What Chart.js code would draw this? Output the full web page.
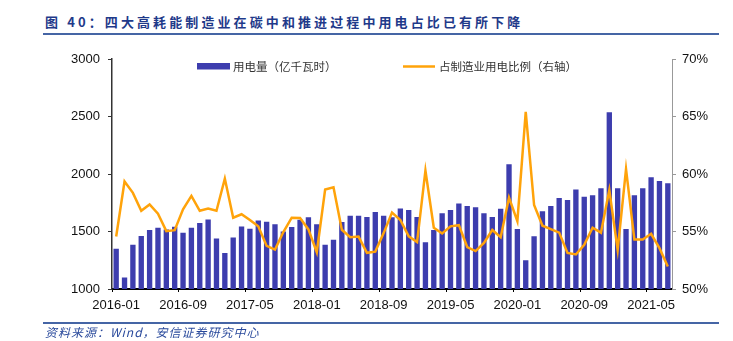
<!DOCTYPE html>
<html>
<head>
<meta charset="utf-8">
<script src="https://cdn.jsdelivr.net/npm/chart.js@4.4.1/dist/chart.umd.min.js"></script>
<style>
  html, body { margin: 0; padding: 0; background: #fff; }
  #wrap { position: relative; width: 733px; height: 341px; overflow: hidden; }
  #chart { position: absolute; left: 0; top: 0; }
  .title {
    position: absolute; left: 45px; top: 15px;
    font: bold 13px "Noto Sans CJK SC", sans-serif; line-height: 13px;
    letter-spacing: 3.1px; color: #1f3a8a; white-space: nowrap;
  }
  .rule { position: absolute; left: 43px; width: 676px; background: #4565a5; }
  .source {
    position: absolute; left: 45px; top: 325px;
    font: italic 12px "Noto Sans CJK SC", sans-serif; line-height: 13px;
    letter-spacing: 1px; color: #2a4a9c; white-space: nowrap;
  }
</style>
</head>
<body>
<div id="wrap">
  <div class="title">图 40：四大高耗能制造业在碳中和推进过程中用电占比已有所下降</div>
  <div class="rule" style="top:33px;height:2px;"></div>
  <canvas id="chart" width="733" height="341"></canvas>
  <div class="rule" style="top:322px;height:1.5px;"></div>
  <div class="source">资料来源：Wind，安信证券研究中心</div>
</div>
<script>
// months 2016-01 .. 2021-07
const months = [
  '2016-01','2016-02','2016-03','2016-04','2016-05','2016-06','2016-07','2016-08','2016-09','2016-10','2016-11','2016-12',
  '2017-01','2017-02','2017-03','2017-04','2017-05','2017-06','2017-07','2017-08','2017-09','2017-10','2017-11','2017-12',
  '2018-01','2018-02','2018-03','2018-04','2018-05','2018-06','2018-07','2018-08','2018-09','2018-10','2018-11','2018-12',
  '2019-01','2019-02','2019-03','2019-04','2019-05','2019-06','2019-07','2019-08','2019-09','2019-10','2019-11','2019-12',
  '2020-01','2020-02','2020-03','2020-04','2020-05','2020-06','2020-07','2020-08','2020-09','2020-10','2020-11','2020-12',
  '2021-01','2021-02','2021-03','2021-04','2021-05','2021-06','2021-07'
];

// 用电量（亿千瓦时）
const usage = [
  1350, 1100, 1385, 1460, 1512, 1532, 1518, 1541, 1489, 1532, 1575, 1604,
  1440, 1313, 1448, 1543, 1523, 1595, 1584, 1562, 1500, 1540, 1603, 1625,
  1564, 1385, 1428, 1582, 1636, 1636, 1627, 1670, 1637, 1625, 1699, 1687,
  1627, 1406, 1512, 1659, 1688, 1743, 1721, 1710, 1659, 1626, 1698, 2084,
  1521, 1249, 1458, 1677, 1721, 1792, 1773, 1865, 1803, 1815, 1876, 2537,
  1876, 1521, 1815, 1876, 1971, 1939, 1919
];

// 占制造业用电比例（%）
const share = [
  54.56, 59.35, 58.36, 56.8, 57.35, 56.55, 55.03, 55.12, 56.93, 58.1, 56.8, 57.0,
  56.8, 59.6, 56.2, 56.5, 56.0, 55.45, 53.75, 53.43, 54.95, 56.2, 56.17, 55.18,
  53.2, 58.65, 58.85, 55.15, 54.5, 54.56, 53.15, 53.25, 54.86, 56.65, 56.0, 54.58,
  54.08, 60.3, 55.33, 54.83, 55.45, 55.55, 53.65, 53.3, 54.0, 55.13, 54.5, 57.95,
  55.9, 65.4, 57.3, 55.5, 55.2, 54.9, 53.13, 53.0, 53.85, 55.33, 54.9, 58.6,
  53.4, 60.43, 54.3, 54.3, 54.8, 53.55, 51.95
];

const barColor = '#3d3dae';
const lineColor = '#ffa30a';

Chart.defaults.font.family = '"Liberation Sans", Arial, sans-serif';
Chart.defaults.font.size = 13;
Chart.defaults.color = '#111';

// legend drawn by hand, the items sit far apart
const legendPlugin = {
  id: 'handLegend',
  afterDraw(chart) {
    const ctx = chart.ctx;
    const ds = chart.data.datasets;
    ctx.save();
    ctx.font = '11.5px "Noto Sans CJK SC", sans-serif';
    ctx.textBaseline = 'middle';
    ctx.fillStyle = barColor;
    ctx.fillRect(197, 63, 33, 6.5);
    ctx.fillStyle = '#333';
    ctx.fillText(ds[1].label, 233, 66.5);
    ctx.strokeStyle = lineColor;
    ctx.lineWidth = 2.5;
    ctx.beginPath();
    ctx.moveTo(403, 66.5);
    ctx.lineTo(435, 66.5);
    ctx.stroke();
    ctx.fillText(ds[0].label, 439, 66.5);
    ctx.restore();
  }
};

const ctx = document.getElementById('chart').getContext('2d');
const myChart = new Chart(ctx, {
  type: 'bar',
  data: {
    labels: months,
    datasets: [{
      type: 'line',
      label: '占制造业用电比例（右轴）',
      data: share,
      yAxisID: 'y1',
      borderColor: lineColor,
      borderWidth: 2.5,
      pointRadius: 0,
      tension: 0,
      order: 0
    }, {
      type: 'bar',
      label: '用电量（亿千瓦时）',
      data: usage,
      yAxisID: 'y',
      backgroundColor: barColor,
      barPercentage: 0.64,
      categoryPercentage: 1,
      order: 1
    }]
  },
  options: {
    responsive: false,
    animation: false,
    layout: { padding: { top: 59, left: 0, right: 0, bottom: 0 } },
    plugins: { legend: { display: false }, tooltip: { enabled: false } },
    scales: {
      x: {
        afterFit(s) { s.height = 52; },
        border: { display: true, color: '#000', width: 2 },
        grid: {
          drawOnChartArea: false, drawTicks: true, tickLength: 3,
          color: (c) => (c.index % 8 === 0 ? '#000' : 'rgba(0,0,0,0)')
        },
        ticks: {
          autoSkip: false, maxRotation: 0, padding: 6,
          callback: function(v, i) { return i % 8 === 0 ? months[i] : ''; }
        }
      },
      y: {
        position: 'left',
        min: 1000, max: 3000,
        afterFit(s) { s.width = 112; },
        border: { display: true, color: '#333', width: 1.5 },
        grid: { drawOnChartArea: false, drawTicks: true, tickLength: 4, color: '#333' },
        ticks: { stepSize: 500, padding: 8, callback: (v) => String(v) }
      },
      y1: {
        position: 'right',
        min: 50, max: 70,
        afterFit(s) { s.width = 61; },
        border: { display: true, color: '#999', width: 1 },
        grid: { drawOnChartArea: false, drawTicks: true, tickLength: 4, color: '#999' },
        ticks: { stepSize: 5, padding: 6, callback: (v) => v + '%' }
      }
    }
  },
  plugins: [legendPlugin]
});
</script>
</body>
</html>
